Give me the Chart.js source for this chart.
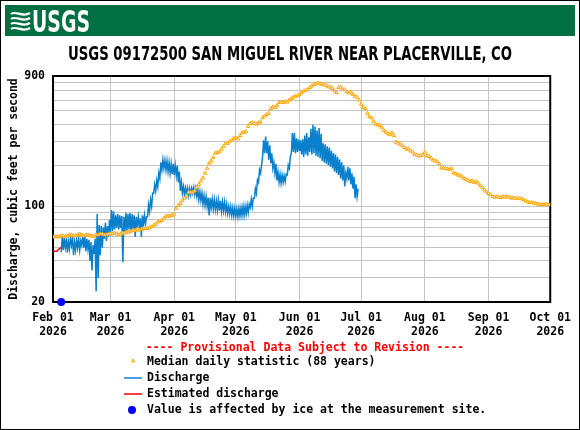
<!DOCTYPE html>
<html>
<head>
<meta charset="utf-8">
<script src="https://cdn.jsdelivr.net/npm/chart.js@4.4.1/dist/chart.umd.min.js"></script>
<style>
  html, body { margin: 0; padding: 0; background: #fff; }
  canvas { display: block; }
</style>
</head>
<body>
<canvas id="chart" width="580" height="430"></canvas>
<script>
// data; day 0 = Feb 01 2026
const stationTitle = 'USGS 09172500 SAN MIGUEL RIVER NEAR PLACERVILLE, CO';
const monthStarts = [0, 28, 59, 89, 120, 150, 181, 212, 242];
const monthLabels = ['Feb 01', 'Mar 01', 'Apr 01', 'May 01', 'Jun 01', 'Jul 01', 'Aug 01', 'Sep 01', 'Oct 01'];
const yearLabel = '2026';
const yGridValues = [20, 30, 40, 50, 60, 70, 80, 90, 100, 200, 300, 400, 500, 600, 700, 800, 900];
const yLabelValues = [20, 100, 900];

// median daily statistic (88 years), one value per day Feb 01 .. Oct 01
const medianDaily = [
  60, 60, 60, 60, 61, 61, 60, 61, 62, 62, 61, 61, 62, 63, 62, 61, 62, 62, 61, 61, 60, 62, 62, 63, 63, 62, 62, 63,
  63, 63, 64, 63, 62, 63, 64, 64, 65, 65, 66, 67, 67, 68, 67, 68, 69, 69, 69, 70, 71, 73, 74, 77, 78, 79, 82, 85, 85, 85, 86,
  88, 97, 102, 105, 111, 115, 119, 127, 127, 127, 130, 138, 145, 153, 162, 175, 190, 207, 215, 228, 245, 248, 250, 262, 275, 290, 290, 300, 305, 315,
  318, 312, 330, 345, 350, 352, 385, 405, 410, 405, 400, 410, 415, 445, 460, 470, 480, 520, 535, 530, 545, 575, 580, 575, 585, 580, 600, 615, 630, 640, 645,
  660, 680, 700, 710, 715, 740, 760, 780, 790, 800, 790, 780, 775, 770, 750, 745, 730, 700, 680, 740, 745, 720, 715, 690, 675, 690, 660, 640, 630, 600,
  560, 530, 520, 480, 455, 445, 420, 400, 395, 392, 380, 360, 350, 340, 335, 345, 330, 295, 290, 285, 280, 270, 262, 265, 255, 250, 240, 238, 234, 236, 238,
  250, 235, 232, 226, 218, 215, 213, 205, 192, 190, 190, 188, 187, 189, 176, 173, 170, 168, 165, 160, 158, 155, 152, 154, 150, 152, 148, 142, 138, 132, 128,
  124, 122, 118, 117, 118, 117, 116, 118, 117, 118, 117, 115, 116, 115, 114, 115, 114, 112, 110, 108, 107, 107, 106, 105, 104, 103, 103, 103, 104, 103,
  103
];

// estimated discharge (start of record)
const estimatedDays = [0, 1, 2, 3, 4];
const estimatedValues = [47, 47, 47, 49, 50];

// discharge: daily low / high of the 15-minute record, from day 4 to day 148
const dischargeStart = 4;
const dischargeLow = [
  46, 48, 50, 46, 49, 52, 44, 48, 50, 48, 52, 50, 47, 49, 40, 34, 45, 24, 30, 44, 50, 58, 56, 60,
  64, 66, 68, 70, 68, 70, 39, 65, 66, 68, 65, 67, 60, 70, 72, 60, 73, 74, 84, 92, 100, 125, 130, 140, 160, 185, 190, 185, 180, 175, 172,
  170, 168, 150, 130, 125, 122, 122, 120, 122, 125, 122, 118, 112, 110, 104, 102, 100, 86, 98, 96, 95, 94, 93, 92, 93, 91, 89, 88, 86, 85,
  85, 84, 85, 86, 86, 88, 90, 98, 100, 115, 125, 150, 175, 230, 245, 245, 220, 207, 190, 175, 155, 150, 148, 150, 152, 170, 190, 245, 250, 245, 250,
  255, 240, 230, 240, 235, 250, 240, 245, 235, 230, 225, 215, 210, 205, 200, 195, 190, 180, 175, 170, 160, 155, 140, 160, 155, 145, 135, 115, 118
];
const dischargeHigh = [
  60, 59, 57, 56, 58, 60, 55, 57, 58, 56, 62, 60, 58, 57, 55, 52, 58, 88, 73, 72, 70, 76, 72, 80,
  94, 92, 86, 88, 86, 85, 84, 90, 88, 90, 88, 86, 84, 84, 82, 86, 86, 84, 103, 112, 125, 145, 155, 175, 210, 220, 218, 215, 210, 205, 205,
  200, 198, 180, 150, 140, 137, 136, 135, 136, 138, 136, 132, 128, 125, 120, 118, 116, 115, 113, 112, 110, 111, 110, 108, 108, 104, 100, 100, 98, 97,
  96, 97, 98, 100, 100, 102, 104, 113, 115, 135, 156, 185, 200, 305, 325, 300, 280, 245, 210, 205, 178, 172, 170, 168, 172, 200, 230, 345, 345, 315, 310,
  305, 310, 330, 345, 320, 370, 395, 385, 360, 375, 340, 290, 285, 275, 270, 255, 245, 240, 230, 220, 210, 200, 175, 195, 190, 175, 165, 145, 135
];

// value affected by ice
const iceDays = [4];
const iceValues = [20];

const dischargePoints = [];
dischargeLow.forEach((lo, i) => {
  dischargePoints.push({ x: dischargeStart + i, y: lo });
  dischargePoints.push({ x: dischargeStart + i + 0.5, y: dischargeHigh[i] });
});
const medianPoints = medianDaily.map((v, i) => ({ x: i, y: v }));
const estimatedPoints = estimatedDays.map((d, i) => ({ x: d, y: estimatedValues[i] }));
const icePoints = iceDays.map((d, i) => ({ x: d, y: iceValues[i] }));

const monoFont = '"DejaVu Sans Mono", monospace';
const narrowFont = '"Liberation Sans Narrow", "DejaVu Sans Condensed", "Liberation Sans", sans-serif';
const orange = '#FFA500';
const blue = '#0A80CC';

Chart.defaults.font.family = monoFont;
Chart.defaults.font.size = 11.5;
Chart.defaults.font.weight = 'bold';
Chart.defaults.color = '#000';

function fitText(ctx, text, x, y, width, align) {
  const w = ctx.measureText(text).width;
  const k = width / w;
  ctx.save();
  ctx.translate(x, y);
  ctx.scale(k, 1);
  ctx.textAlign = align;
  ctx.fillText(text, 0, 0);
  ctx.restore();
}

const usgsPage = {
  id: 'usgsPage',
  beforeDraw(chart) {
    const ctx = chart.ctx;
    ctx.save();
    ctx.fillStyle = '#fff';
    ctx.fillRect(0, 0, chart.width, chart.height);
    // green banner
    ctx.fillStyle = '#006F41';
    ctx.fillRect(5, 5, 570, 31);
    // wave mark
    ctx.strokeStyle = '#fff';
    ctx.lineWidth = 2.2;
    for (let k = 0; k < 4; k++) {
      const y0 = 13 + k * 5;
      ctx.beginPath();
      ctx.moveTo(11, y0 + 1);
      ctx.bezierCurveTo(16, y0 - 3, 22, y0 + 5, 30, y0);
      ctx.stroke();
    }
    ctx.fillStyle = '#fff';
    ctx.font = 'bold 31px ' + narrowFont;
    ctx.textBaseline = 'alphabetic';
    fitText(ctx, 'USGS', 32, 32, 58, 'left');
    // title
    ctx.fillStyle = '#000';
    ctx.font = 'bold 19px ' + narrowFont;
    fitText(ctx, stationTitle, 290, 60, 444, 'center');
    ctx.restore();
  },
  beforeDatasetsDraw(chart) {
    const { ctx, chartArea: a } = chart;
    ctx.save();
    ctx.strokeStyle = '#000';
    ctx.lineWidth = 2;
    ctx.strokeRect(a.left, a.top, a.right - a.left, a.bottom - a.top);
    ctx.restore();
  },
  afterDraw(chart) {
    const ctx = chart.ctx;
    ctx.save();
    ctx.font = 'bold 11.5px ' + monoFont;
    ctx.textBaseline = 'middle';
    ctx.fillStyle = '#FF0000';
    ctx.textAlign = 'center';
    ctx.fillText('---- Provisional Data Subject to Revision ----', 305, 348);

    ctx.textAlign = 'left';
    ctx.fillStyle = '#000';
    const tx = 147;
    ctx.fillText('Median daily statistic (88 years)', tx, 362);
    ctx.fillText('Discharge', tx, 378);
    ctx.fillText('Estimated discharge', tx, 394);
    ctx.fillText('Value is affected by ice at the measurement site.', tx, 410);

    ctx.strokeStyle = orange;
    ctx.fillStyle = '#fff';
    ctx.lineWidth = 1;
    Chart.helpers.drawPoint(ctx, { pointStyle: 'triangle', radius: 2, rotation: 0, borderWidth: 1 }, 133, 361);

    ctx.lineWidth = 1.5;
    ctx.strokeStyle = blue;
    ctx.beginPath(); ctx.moveTo(124, 378); ctx.lineTo(142, 378); ctx.stroke();
    ctx.strokeStyle = '#FF0000';
    ctx.beginPath(); ctx.moveTo(124, 394); ctx.lineTo(142, 394); ctx.stroke();

    ctx.fillStyle = '#0000FF';
    ctx.beginPath(); ctx.arc(132, 410, 4, 0, Math.PI * 2); ctx.fill();

    ctx.strokeStyle = '#000';
    ctx.lineWidth = 1;
    ctx.strokeRect(0.5, 0.5, chart.width - 1, chart.height - 1);
    ctx.restore();
  }
};

new Chart(document.getElementById('chart'), {
  type: 'line',
  data: {
    datasets: [
      {
        label: 'Value is affected by ice at the measurement site.',
        data: icePoints,
        showLine: false,
        pointStyle: 'circle',
        pointRadius: 4,
        pointBorderWidth: 0,
        pointBackgroundColor: '#0000FF',
        pointBorderColor: '#0000FF',
        clip: false,
        order: 0
      },
      {
        label: 'Median daily statistic (88 years)',
        data: medianPoints,
        showLine: false,
        pointStyle: 'triangle',
        pointRadius: 2,
        pointBorderWidth: 1,
        pointBorderColor: orange,
        pointBackgroundColor: '#fff',
        order: 1
      },
      {
        label: 'Estimated discharge',
        data: estimatedPoints,
        borderColor: '#FF0000',
        borderWidth: 1.5,
        pointRadius: 0,
        order: 2
      },
      {
        label: 'Discharge',
        data: dischargePoints,
        borderColor: blue,
        borderWidth: 1.5,
        pointRadius: 0,
        order: 3
      }
    ]
  },
  options: {
    responsive: false,
    animation: false,
    devicePixelRatio: 1,
    layout: { padding: { left: 2, right: 24, top: 76, bottom: 88 } },
    plugins: {
      legend: { display: false },
      tooltip: { enabled: false },
      title: { display: false }
    },
    scales: {
      x: {
        type: 'linear',
        min: 0,
        max: 242,
        afterBuildTicks: s => { s.ticks = monthStarts.map(v => ({ value: v })); },
        afterFit: s => { s.height = 40; },
        ticks: {
          autoSkip: false,
          maxRotation: 0,
          padding: 9,
          callback: (v, i) => [monthLabels[i], yearLabel]
        },
        grid: { color: '#C4C4C4', lineWidth: 1, drawTicks: false },
        border: { display: false }
      },
      y: {
        type: 'logarithmic',
        min: 20,
        max: 900,
        afterBuildTicks: s => { s.ticks = yGridValues.map(v => ({ value: v })); },
        afterFit: s => { s.width = 51; },
        ticks: {
          autoSkip: false,
          padding: 8,
          callback: v => yLabelValues.includes(v) ? String(v) : ''
        },
        grid: { color: '#C4C4C4', lineWidth: 1, drawTicks: false },
        border: { display: false },
        title: {
          display: true,
          text: 'Discharge, cubic feet per second',
          padding: { top: 5, bottom: 0 },
          font: { size: 11.5, weight: 'bold', family: monoFont }
        }
      }
    }
  }
  ,
  plugins: [usgsPage]
});
</script>
</body>
</html>
